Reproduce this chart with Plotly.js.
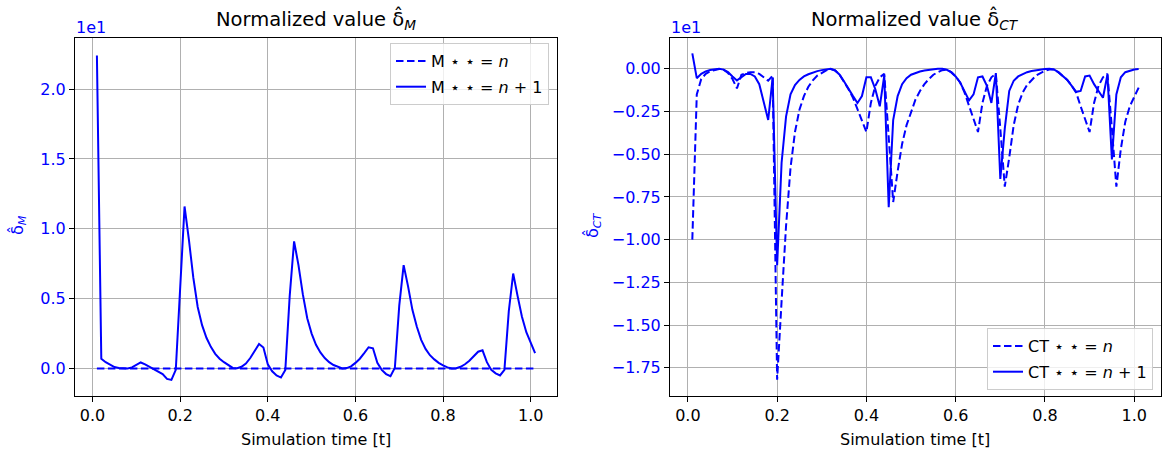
<!DOCTYPE html>
<html>
<head>
<meta charset="utf-8">
<script src="https://cdn.plot.ly/plotly-3.0.1.min.js"></script>
<style>html,body{margin:0;padding:0;background:#fff;}#chart{width:1162px;height:452px;}</style>
</head>
<body>
<div id="chart"></div>
<script>
// Simulation time [t]
const time = [0.01,0.02,0.03,0.04,0.05,0.06,0.07,0.08,0.09,0.10,
0.11,0.12,0.13,0.14,0.15,0.16,0.17,0.18,0.19,0.20,
0.21,0.22,0.23,0.24,0.25,0.26,0.27,0.28,0.29,0.30,
0.31,0.32,0.33,0.34,0.35,0.36,0.37,0.38,0.39,0.40,
0.41,0.42,0.43,0.44,0.45,0.46,0.47,0.48,0.49,0.50,
0.51,0.52,0.53,0.54,0.55,0.56,0.57,0.58,0.59,0.60,
0.61,0.62,0.63,0.64,0.65,0.66,0.67,0.68,0.69,0.70,
0.71,0.72,0.73,0.74,0.75,0.76,0.77,0.78,0.79,0.80,
0.81,0.82,0.83,0.84,0.85,0.86,0.87,0.88,0.89,0.90,
0.91,0.92,0.93,0.94,0.95,0.96,0.97,0.98,0.99,1.00,1.01];

// Normalized value delta_M (units of 1e1)
const M_n = [0,0,0,0,0,0,0,0,0,0,
0,0,0,0,0,0,0,0,0,0,
0,0,0,0,0,0,0,0,0,0,
0,0,0,0,0,0,0,0,0,0,
0,0,0,0,0,0,0,0,0,0,
0,0,0,0,0,0,0,0,0,0,
0,0,0,0,0,0,0,0,0,0,
0,0,0,0,0,0,0,0,0,0,
0,0,0,0,0,0,0,0,0,0,
0,0,0,0,0,0,0,0,0,0,0];
const M_n1 = [2.24,0.07,0.045,0.025,0.01,0.003,0.0,0.0,0.008,0.028,
0.043,0.03,0.012,-0.003,-0.02,-0.04,-0.075,-0.082,-0.01,0.57,
1.16,0.92,0.65,0.44,0.31,0.22,0.155,0.105,0.07,0.045,
0.022,0.004,0.002,0.012,0.035,0.075,0.125,0.175,0.15,0.03,
-0.02,-0.05,-0.065,-0.01,0.52,0.91,0.74,0.53,0.36,0.25,
0.17,0.115,0.075,0.045,0.025,0.01,0.0,0.003,0.015,0.04,
0.07,0.11,0.152,0.145,0.04,-0.01,-0.04,-0.055,0.005,0.45,
0.74,0.59,0.42,0.30,0.205,0.14,0.095,0.065,0.04,0.022,
0.008,0.0,0.002,0.012,0.03,0.055,0.09,0.12,0.13,0.045,
-0.01,-0.035,-0.05,-0.01,0.41,0.68,0.52,0.37,0.26,0.18,0.11];

// Normalized value delta_CT (units of 1e1)
const CT_n = [-1.0,-0.15,-0.06,-0.03,-0.015,-0.006,-0.001,-0.005,-0.025,-0.06,
-0.115,-0.035,-0.025,-0.02,-0.02,-0.03,-0.05,-0.07,-0.04,-1.82,
-1.36,-0.92,-0.58,-0.37,-0.24,-0.16,-0.105,-0.068,-0.04,-0.022,
-0.009,-0.002,-0.01,-0.035,-0.075,-0.12,-0.17,-0.24,-0.31,-0.37,
-0.2,-0.1,-0.05,-0.03,-0.4,-0.78,-0.60,-0.44,-0.33,-0.25,
-0.18,-0.13,-0.09,-0.06,-0.035,-0.02,-0.008,-0.006,-0.02,-0.045,
-0.08,-0.14,-0.22,-0.30,-0.37,-0.2,-0.1,-0.05,-0.03,-0.35,
-0.69,-0.52,-0.33,-0.21,-0.14,-0.095,-0.065,-0.04,-0.025,-0.012,
-0.004,-0.004,-0.02,-0.04,-0.065,-0.10,-0.14,-0.22,-0.30,-0.37,
-0.2,-0.1,-0.05,-0.03,-0.35,-0.69,-0.47,-0.31,-0.22,-0.16,-0.11];
const CT_n1 = [0.09,-0.055,-0.03,-0.015,-0.007,-0.002,0.0,-0.005,-0.02,-0.045,
-0.068,-0.05,-0.03,-0.03,-0.045,-0.09,-0.19,-0.30,-0.05,-1.15,
-0.55,-0.28,-0.15,-0.095,-0.065,-0.045,-0.032,-0.022,-0.014,-0.008,
-0.003,0.0,-0.01,-0.035,-0.075,-0.12,-0.16,-0.20,-0.16,-0.05,
-0.05,-0.12,-0.22,-0.04,-0.81,-0.30,-0.16,-0.09,-0.055,-0.035,
-0.024,-0.016,-0.01,-0.006,-0.003,0.0,0.0,-0.006,-0.02,-0.045,
-0.08,-0.13,-0.185,-0.15,-0.05,-0.045,-0.10,-0.20,-0.025,-0.645,
-0.35,-0.13,-0.07,-0.045,-0.03,-0.02,-0.013,-0.008,-0.004,-0.001,
0.0,-0.004,-0.02,-0.04,-0.065,-0.10,-0.135,-0.13,-0.045,-0.04,
-0.09,-0.13,-0.17,-0.035,-0.53,-0.15,-0.05,-0.02,-0.01,-0.004,-0.002];

const seriesNames = {
  M_n: 'M ⋆ ⋆ = <i>n</i>',
  M_n1: 'M ⋆ ⋆ = <i>n</i> + 1',
  CT_n: 'CT ⋆ ⋆ = <i>n</i>',
  CT_n1: 'CT ⋆ ⋆ = <i>n</i> + 1'
};
const titles = ['Normalized value δ̂<sub><i>M</i></sub>', 'Normalized value δ̂<sub><i>CT</i></sub>'];
const yTitles = ['δ̂<sub><i>M</i></sub>', 'δ̂<sub><i>CT</i></sub>'];
const xTitle = 'Simulation time [t]';

const BLUE = '#0000ff';
const FONT = 'DejaVu Sans, sans-serif';
const dashStyle = '7.5px,3.5px';
const FS = 16;

const traces = [
  {x: time, y: M_n, name: seriesNames.M_n, mode: 'lines', line: {color: BLUE, width: 2, dash: dashStyle}, xaxis: 'x', yaxis: 'y', legend: 'legend', legendgroup: 'a'},
  {x: time, y: M_n1, name: seriesNames.M_n1, mode: 'lines', line: {color: BLUE, width: 2}, xaxis: 'x', yaxis: 'y', legend: 'legend', legendgroup: 'b'},
  {x: time, y: CT_n, name: seriesNames.CT_n, mode: 'lines', line: {color: BLUE, width: 2, dash: dashStyle}, xaxis: 'x2', yaxis: 'y2', legend: 'legend2', legendgroup: 'c'},
  {x: time, y: CT_n1, name: seriesNames.CT_n1, mode: 'lines', line: {color: BLUE, width: 2}, xaxis: 'x2', yaxis: 'y2', legend: 'legend2', legendgroup: 'd'}
];

const W = 1162, H = 452;
const px = v => v / W;
const py = v => 1 - v / H;

function xaxisCfg(d0, d1, anchor) {
  return {
    domain: [d0, d1], anchor: anchor, range: [-0.04, 1.06],
    tickvals: [0, 0.2, 0.4, 0.6, 0.8, 1.0], tickformat: '.1f',
    showgrid: true, gridcolor: '#b0b0b0', gridwidth: 1, zeroline: false,
    showline: true, mirror: true, linecolor: '#000', linewidth: 1,
    ticks: 'outside', ticklen: 5, tickwidth: 1, tickcolor: '#000',
    tickfont: {family: FONT, size: FS, color: '#000'}
  };
}
function yaxisCfg(range, dtick, fmt, anchor) {
  return {
    domain: [py(396), py(38)], anchor: anchor, range: range,
    tick0: 0, dtick: dtick, tickformat: fmt,
    showgrid: true, gridcolor: '#b0b0b0', gridwidth: 1, zeroline: false,
    showline: true, mirror: true, linecolor: '#000', linewidth: 1,
    ticks: 'outside', ticklen: 5, tickwidth: 1, tickcolor: '#000',
    tickfont: {family: FONT, size: FS, color: BLUE}
  };
}

const legendBase = {
  bgcolor: 'rgba(255,255,255,0.8)', bordercolor: '#cccccc', borderwidth: 1,
  font: {family: FONT, size: FS, color: '#000'}, tracegroupgap: 2, traceorder: 'grouped'
};

const layout = {
  width: W, height: H,
  margin: {l: 0, r: 0, t: 0, b: 0},
  paper_bgcolor: '#fff', plot_bgcolor: '#fff',
  showlegend: true,
  font: {family: FONT, size: FS, color: '#000'},
  xaxis: xaxisCfg(px(75), px(557), 'y'),
  yaxis: yaxisCfg([-0.197, 2.366], 0.5, '.1f', 'x'),
  xaxis2: xaxisCfg(px(670), px(1161), 'y2'),
  yaxis2: yaxisCfg([-1.915, 0.18], 0.25, '.2f', 'x2'),
  legend: Object.assign({}, legendBase, {x: px(549), y: py(74), xanchor: 'right', yanchor: 'middle'}),
  legend2: Object.assign({}, legendBase, {x: px(1153), y: py(359), xanchor: 'right', yanchor: 'middle'}),
  annotations: [
    {text: titles[0], xref: 'paper', yref: 'paper', x: px(316), y: py(20), showarrow: false, font: {family: FONT, size: 19.5, color: '#000'}, xanchor: 'center', yanchor: 'middle'},
    {text: titles[1], xref: 'paper', yref: 'paper', x: px(915), y: py(20), showarrow: false, font: {family: FONT, size: 19.5, color: '#000'}, xanchor: 'center', yanchor: 'middle'},
    {text: xTitle, xref: 'paper', yref: 'paper', x: px(316), y: py(439), showarrow: false, font: {family: FONT, size: FS, color: '#000'}, xanchor: 'center', yanchor: 'middle'},
    {text: xTitle, xref: 'paper', yref: 'paper', x: px(915), y: py(439), showarrow: false, font: {family: FONT, size: FS, color: '#000'}, xanchor: 'center', yanchor: 'middle'},
    {text: yTitles[0], xref: 'paper', yref: 'paper', x: px(18), y: py(225), showarrow: false, textangle: -90, font: {family: FONT, size: FS, color: BLUE}, xanchor: 'center', yanchor: 'middle'},
    {text: yTitles[1], xref: 'paper', yref: 'paper', x: px(593), y: py(225), showarrow: false, textangle: -90, font: {family: FONT, size: FS, color: BLUE}, xanchor: 'center', yanchor: 'middle'},
    {text: '1e1', xref: 'paper', yref: 'paper', x: px(74), y: py(27), showarrow: false, font: {family: FONT, size: FS, color: BLUE}, xanchor: 'left', yanchor: 'middle'},
    {text: '1e1', xref: 'paper', yref: 'paper', x: px(669), y: py(27), showarrow: false, font: {family: FONT, size: FS, color: BLUE}, xanchor: 'left', yanchor: 'middle'}
  ]
};

Plotly.newPlot('chart', traces, layout, {displayModeBar: false, staticPlot: true});
</script>
</body>
</html>
